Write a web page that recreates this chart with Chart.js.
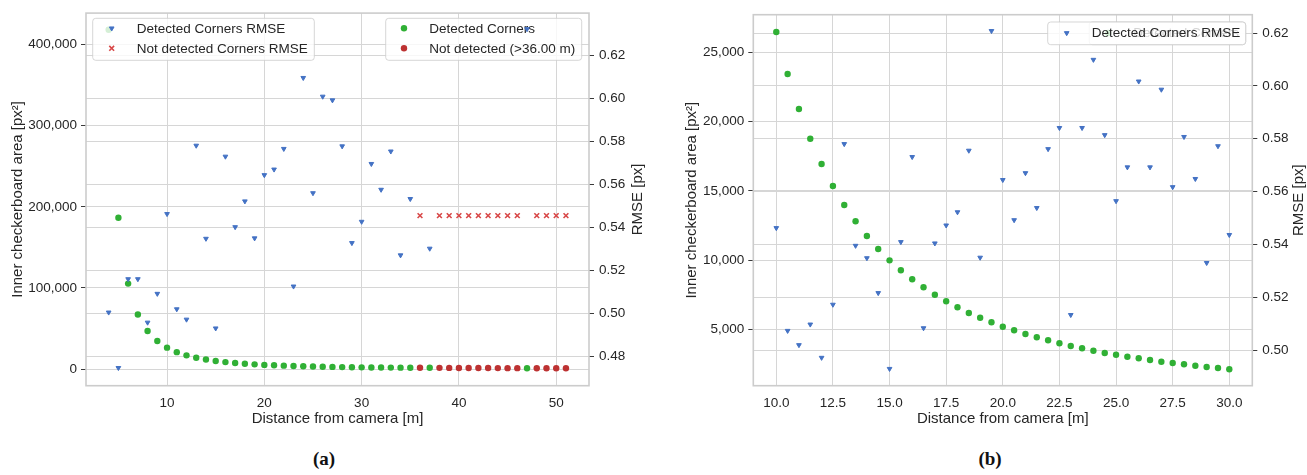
<!DOCTYPE html>
<html><head><meta charset="utf-8">
<script src="https://cdn.jsdelivr.net/npm/chart.js@4.4.1/dist/chart.umd.min.js"></script>
<style>
html,body{margin:0;padding:0;background:#fff;}
body{width:1307px;height:475px;position:relative;overflow:hidden;}
.box{position:absolute;top:0;height:440px;}
#wa{left:0;width:650px;}
#wb{left:655px;width:652px;}
.cap{position:absolute;top:448px;line-height:22px;font-family:"Liberation Serif","DejaVu Serif",serif;font-weight:bold;font-size:19px;color:#111;transform:translateX(-50%);}
</style></head>
<body>
<div class="box" id="wa"><canvas id="ca"></canvas></div>
<div class="box" id="wb"><canvas id="cb"></canvas></div>
<div class="cap" style="left:324px">(a)</div>
<div class="cap" style="left:990px">(b)</div>
<script>
// ---------- DATA: chart (a) ----------
const distDetA = [4,5,6,7,8,9,10,11,12,13,14,15,16,17,18,19,20,21,22,23,24,25,26,27,28,29,30,31,32,33,34,35,37,47];
const areaDetA = [418300,186600,105400,67400,46900,34700,26464,20912,16946,13990,11755,10000,8633,7523,6615,5865,5216,4689,4235,3824,3485,3197,2938,2693,2506,2311,2145,2050,1960,1880,1800,1730,1600,1140];
const rmseDetA = [0.5005,0.4747,0.5160,0.5160,0.4958,0.5092,0.5463,0.5020,0.4972,0.5781,0.5348,0.4931,0.5730,0.5402,0.5522,0.5350,0.5644,0.5670,0.5766,0.5126,0.6096,0.5560,0.6009,0.5992,0.5778,0.5328,0.5427,0.5696,0.5576,0.5754,0.5271,0.5533,0.5302,0.6323];
const distNotA = [36,38,39,40,41,42,43,44,45,46,48,49,50,51];
const areaNotA = [1660,1540,1480,1430,1380,1330,1290,1250,1210,1170,1100,1070,1040,1010];
const rmseNotA = [0.5455,0.5455,0.5455,0.5455,0.5455,0.5455,0.5455,0.5455,0.5455,0.5455,0.5455,0.5455,0.5455,0.5455];
const xTicksA = [10,20,30,40,50];
const areaTicksA = [0,100000,200000,300000,400000];
const rmseTicksA = [0.48,0.50,0.52,0.54,0.56,0.58,0.60,0.62];

// ---------- DATA: chart (b) ----------
const distB = [10,10.5,11,11.5,12,12.5,13,13.5,14,14.5,15,15.5,16,16.5,17,17.5,18,18.5,19,19.5,20,20.5,21,21.5,22,22.5,23,23.5,24,24.5,25,25.5,26,26.5,27,27.5,28,28.5,29,29.5,30];
const areaB = [26464,23435,20912,18771,16946,15360,13990,12815,11755,10818,10000,9282,8633,8056,7523,7047,6615,6204,5865,5533,5216,4956,4689,4451,4235,4019,3824,3658,3485,3320,3197,3053,2938,2815,2693,2599,2506,2405,2311,2239,2145];
const rmseB = [0.5462,0.5073,0.5019,0.5097,0.4971,0.5172,0.5780,0.5395,0.5348,0.5216,0.4929,0.5409,0.5731,0.5083,0.5404,0.5472,0.5522,0.5755,0.5350,0.6208,0.5644,0.5492,0.5670,0.5538,0.5761,0.5841,0.5133,0.5841,0.6099,0.5814,0.5564,0.5692,0.6017,0.5692,0.5986,0.5617,0.5807,0.5648,0.5330,0.5772,0.5436];
const xTicksB = [10,12.5,15,17.5,20,22.5,25,27.5,30];
const areaTicksB = [5000,10000,15000,20000,25000];
const rmseTicksB = [0.50,0.52,0.54,0.56,0.58,0.60,0.62];

// ---------- STYLE ----------
const FAM = '"Liberation Sans", Arial, Helvetica, sans-serif';
const TXT = '#262626';
const FONT = {family: FAM, size: 13.5};
const TFONT = {family: FAM, size: 15};
const GRID = '#d6d6d6';
const GREEN = '#30b035', RED = '#bd3232', REDX = '#d84848', BLUE = '#4472c4';

const pts = (xs, ys) => xs.map((x, i) => ({x, y: ys[i]}));
const setTicks = arr => s => { s.ticks = arr.map(v => ({value: v})); };

const styleGreen = {pointStyle:'circle', pointRadius:3.2, pointBackgroundColor:GREEN, pointBorderColor:GREEN, pointBorderWidth:0};
const styleRed = {pointStyle:'circle', pointRadius:3.2, pointBackgroundColor:RED, pointBorderColor:RED, pointBorderWidth:0};
const styleTri = {pointStyle:'triangle', pointRotation:180, pointRadius:2.7, pointBackgroundColor:BLUE, pointBorderColor:BLUE, pointBorderWidth:1};
const styleX = {pointStyle:'crossRot', pointRadius:3.4, pointBackgroundColor:REDX, pointBorderColor:REDX, pointBorderWidth:1.6};

function drawLegend(chart, L) {
  const ctx = chart.ctx;
  ctx.save();
  const [x0, y0, x1, y1] = L.box;
  ctx.beginPath();
  ctx.roundRect(x0, y0, x1 - x0, y1 - y0, 3);
  ctx.fillStyle = 'rgba(255,255,255,0.8)';
  ctx.fill();
  ctx.strokeStyle = 'rgba(204,204,204,0.8)';
  ctx.lineWidth = 1;
  ctx.stroke();
  L.items.forEach((it, i) => {
    const y = L.rows[i];
    const st = it.style;
    ctx.fillStyle = st.pointBackgroundColor;
    ctx.strokeStyle = st.pointBorderColor;
    ctx.lineWidth = st.pointBorderWidth;
    Chart.helpers.drawPoint(ctx, {pointStyle: st.pointStyle, rotation: st.pointRotation || 0,
      radius: st.pointRadius, borderWidth: st.pointBorderWidth}, L.mx, y);
    ctx.fillStyle = TXT;
    ctx.font = '13.5px ' + FAM;
    ctx.textBaseline = 'middle';
    ctx.textAlign = 'left';
    ctx.fillText(it.text, L.tx, y + 0.5);
  });
  ctx.restore();
}

function makePlugin(cfg) {
  return {
    id: 'mplLike',
    beforeDatasetsDraw(chart) {
      const a = chart.chartArea, ctx = chart.ctx;
      ctx.save();
      ctx.strokeStyle = '#cccccc';
      ctx.lineWidth = 1.6;
      ctx.strokeRect(a.left, a.top, a.right - a.left, a.bottom - a.top);
      ctx.restore();
    },
    afterDatasetDraw(chart, args) {
      if (args.index === cfg.ax1Index) drawLegend(chart, cfg.legend1);
    },
    afterDatasetsDraw(chart) {
      drawLegend(chart, cfg.legend2);
    },
    afterDraw(chart) {
      const a = chart.chartArea, ctx = chart.ctx;
      ctx.save();
      ctx.translate(cfg.rightTitleX, (a.top + a.bottom) / 2);
      ctx.rotate(-Math.PI / 2);
      ctx.fillStyle = TXT;
      ctx.font = '15px ' + FAM;
      ctx.textAlign = 'center';
      ctx.textBaseline = 'middle';
      ctx.fillText(cfg.rightTitle, 0, 0);
      ctx.restore();
    }
  };
}

function scales(o) {
  return {
    x: {
      type: 'linear', min: o.xMin, max: o.xMax,
      afterBuildTicks: setTicks(o.xTicks),
      afterFit: s => { s.height = o.xH; },
      grid: {color: GRID, lineWidth: 1, drawTicks: false},
      border: {display: false},
      ticks: {color: TXT, font: FONT, padding: 9, maxRotation: 0, callback: o.xFmt},
      title: {display: true, text: 'Distance from camera [m]', color: TXT, font: TFONT, padding: {top: 0, bottom: 11.7}}
    },
    yA: {
      type: 'linear', position: 'left', min: o.aMin, max: o.aMax,
      afterBuildTicks: setTicks(o.aTicks),
      afterFit: s => { s.width = o.lW; },
      grid: {color: GRID, lineWidth: 1, drawTicks: true, tickLength: 5, tickColor: '#3a3a3a', tickWidth: 1},
      border: {display: false},
      ticks: {color: TXT, font: FONT, padding: 4, callback: v => v.toLocaleString('en-US')},
      title: {display: true, text: 'Inner checkerboard area [px\u00B2]', color: TXT, font: TFONT, padding: {top: o.lTitlePad, bottom: 0}}
    },
    yR: {
      type: 'linear', position: 'right', min: o.rMin, max: o.rMax,
      afterBuildTicks: setTicks(o.rTicks),
      afterFit: s => { s.width = o.rW; },
      grid: {color: GRID, lineWidth: 1, drawTicks: true, tickLength: 5, tickColor: '#3a3a3a', tickWidth: 1},
      border: {display: false},
      ticks: {color: TXT, font: FONT, padding: 5, callback: v => v.toFixed(2)},
      title: {display: false}
    }
  };
}

const common = {
  responsive: true, maintainAspectRatio: false, animation: false, devicePixelRatio: 1,
  plugins: {legend: {display: false}, tooltip: {enabled: false}},
  events: []
};

// ---------- CHART (a) ----------
const dsA = [
  Object.assign({label: 'Detected Corners RMSE', data: pts(distDetA, rmseDetA), yAxisID: 'yR'}, styleTri),
  Object.assign({label: 'Not detected Corners RMSE', data: pts(distNotA, rmseNotA), yAxisID: 'yR'}, styleX),
  Object.assign({label: 'Detected Corners', data: pts(distDetA, areaDetA), yAxisID: 'yA'}, styleGreen),
  Object.assign({label: 'Not detected (>36.00 m)', data: pts(distNotA, areaNotA), yAxisID: 'yA'}, styleRed)
];
new Chart(document.getElementById('ca'), {
  type: 'scatter',
  data: {datasets: dsA},
  options: Object.assign({}, common, {
    layout: {padding: {top: 10.7, left: 0, right: 0, bottom: 0}},
    scales: scales({xMin: 1.67, xMax: 53.37, xTicks: xTicksA, xFmt: v => String(v), xH: 54.3,
      aMin: -20450, aMax: 438800, aTicks: areaTicksA, lW: 86, lTitlePad: 8.8,
      rMin: 0.4664, rMax: 0.6397, rTicks: rmseTicksA, rW: 61})
  }),
  plugins: [makePlugin({
    ax1Index: 2,
    legend1: {box: [385.7, 18.3, 581.7, 60.3], mx: 404, tx: 429.3, rows: [28.3, 48.3],
      items: [{text: dsA[2].label, style: styleGreen}, {text: dsA[3].label, style: styleRed}]},
    legend2: {box: [92.7, 18.3, 314.3, 60.3], mx: 111.7, tx: 136.7, rows: [28.3, 48.3],
      items: [{text: dsA[0].label, style: styleTri}, {text: dsA[1].label, style: styleX}]},
    rightTitle: 'RMSE [px]', rightTitleX: 638
  })]
});

// ---------- CHART (b) ----------
const dsB = [
  Object.assign({label: 'Detected Corners RMSE', data: pts(distB, rmseB), yAxisID: 'yR'}, styleTri),
  Object.assign({label: 'Detected Corners', data: pts(distB, areaB), yAxisID: 'yA'}, styleGreen)
];
new Chart(document.getElementById('cb'), {
  type: 'scatter',
  data: {datasets: dsB},
  options: Object.assign({}, common, {
    layout: {padding: {top: 14.7, left: 0, right: 0, bottom: 0}},
    scales: scales({xMin: 8.985, xMax: 31.015, xTicks: xTicksB, xFmt: v => v.toFixed(1), xH: 54.3,
      aMin: 962, aMax: 27711, aTicks: areaTicksB, lW: 98.3, lTitlePad: 27.8,
      rMin: 0.48649, rMax: 0.62693, rTicks: rmseTicksB, rW: 54.7})
  }),
  plugins: [makePlugin({
    ax1Index: 1,
    legend1: {box: [434.2, 22, 590.7, 44.7], mx: 453.2, tx: 478.2, rows: [33],
      items: [{text: dsB[1].label, style: styleGreen}]},
    legend2: {box: [392.7, 22, 590.7, 44.7], mx: 411.7, tx: 436.7, rows: [33],
      items: [{text: dsB[0].label, style: styleTri}]},
    rightTitle: 'RMSE [px]', rightTitleX: 644
  })]
});
</script>
</body></html>
